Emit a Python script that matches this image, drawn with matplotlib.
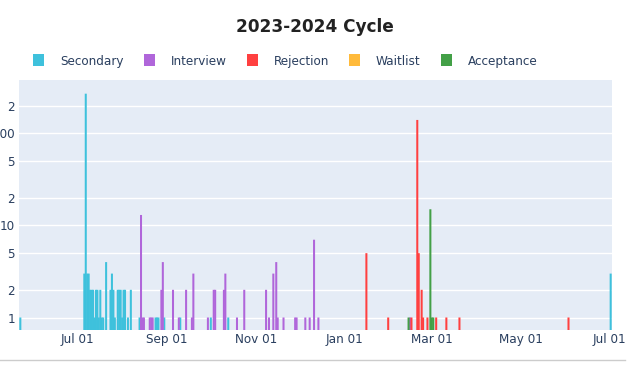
import pandas as pd
import matplotlib
matplotlib.use("Agg")
import matplotlib.pyplot as plt
import matplotlib.dates as mdates
from matplotlib.lines import Line2D
from matplotlib.patches import Rectangle

plt.rcParams['font.family'] = ['DejaVu Sans']

# Datos por categoría (fecha, cantidad)
secondary_dates = ["2023-05-23", "2023-07-06", "2023-07-07", "2023-07-08", "2023-07-09",
                   "2023-07-10", "2023-07-11", "2023-07-12", "2023-07-13", "2023-07-14",
                   "2023-07-15", "2023-07-16", "2023-07-17", "2023-07-18", "2023-07-19",
                   "2023-07-21", "2023-07-24", "2023-07-25", "2023-07-26", "2023-07-27",
                   "2023-07-29", "2023-07-30", "2023-07-31", "2023-08-01", "2023-08-02",
                   "2023-08-03", "2023-08-05", "2023-08-07", "2023-08-13", "2023-08-24",
                   "2023-08-25", "2023-08-26", "2023-08-30", "2023-09-10", "2023-10-01",
                   "2023-10-13", "2024-07-02"]
secondary_vals = [1, 3, 270, 3, 3,
                  2, 2, 2, 1, 2,
                  2, 1, 2, 1, 1,
                  4, 2, 3, 2, 1,
                  2, 2, 2, 1, 2,
                  2, 1, 2, 1, 1,
                  1, 1, 1, 1, 1,
                  1, 3]

interview_dates = ["2023-08-14", "2023-08-15", "2023-08-16", "2023-08-20", "2023-08-21",
                   "2023-08-22", "2023-08-28", "2023-08-29", "2023-09-05", "2023-09-09",
                   "2023-09-14", "2023-09-18", "2023-09-19", "2023-09-29", "2023-10-03",
                   "2023-10-04", "2023-10-10", "2023-10-11", "2023-10-19", "2023-10-24",
                   "2023-11-08", "2023-11-10", "2023-11-13", "2023-11-15", "2023-11-16",
                   "2023-11-20", "2023-11-28", "2023-11-29", "2023-12-05", "2023-12-08",
                   "2023-12-11", "2023-12-14", "2024-02-15"]
interview_vals = [13, 1, 1, 1, 1,
                  1, 2, 4, 2, 1,
                  2, 1, 3, 1, 2,
                  2, 2, 3, 1, 2,
                  2, 1, 3, 4, 1,
                  1, 1, 1, 1, 1,
                  7, 1, 1]

rejection_dates = ["2024-01-16", "2024-01-31", "2024-02-16", "2024-02-20", "2024-02-21",
                   "2024-02-23", "2024-02-24", "2024-02-27", "2024-03-04", "2024-03-11",
                   "2024-03-20", "2024-06-03"]
rejection_vals = [5, 1, 1, 140, 5,
                  2, 1, 1, 1, 1,
                  1, 1]

waitlist_dates = []
waitlist_vals = []

acceptance_dates = ["2024-02-14", "2024-02-29", "2024-03-01", "2024-03-02"]
acceptance_vals = [1, 15, 1, 1]

series = [
    ("Secondary", secondary_dates, secondary_vals, "#3ec1dc"),
    ("Interview", interview_dates, interview_vals, "#b066da"),
    ("Rejection", rejection_dates, rejection_vals, "#ff4040"),
    ("Waitlist", waitlist_dates, waitlist_vals, "#ffba3b"),
    ("Acceptance", acceptance_dates, acceptance_vals, "#43a047"),
]

W, H = 630, 370
fig = plt.figure(figsize=(W / 100, H / 100), dpi=100)
ax = fig.add_axes([19 / W, 1 - 329.5 / H, 592.7 / W, 249.5 / H])
ax.set_facecolor("#e5ecf6")
ax.set_yscale("log")

for name, dates, vals, color in series:
    bars = ax.bar(pd.to_datetime(dates), vals, width=1.4, bottom=0.001, color=color,
                  linewidth=0, zorder=2)
    for b in bars:
        b.set_snap(False)

ax.set_xlim(pd.Timestamp("2023-05-22 02:00"), pd.Timestamp("2024-07-02 17:00"))
ax.set_ylim(10 ** -0.13, 10 ** 2.58)

yticks = [1, 2, 5, 10, 20, 50, 100, 200]
ylabels = ["1", "2", "5", "10", "2", "5", "100", "2"]
ax.set_yticks(yticks)
ax.set_yticklabels(ylabels)
ax.yaxis.set_minor_locator(matplotlib.ticker.NullLocator())
ax.grid(True, axis="y", color="white", linewidth=1, zorder=1)
ax.set_axisbelow(True)

ax.xaxis.set_major_locator(mdates.MonthLocator(bymonth=[1, 3, 5, 7, 9, 11]))
ax.xaxis.set_major_formatter(mdates.DateFormatter("%b %d"))
ax.tick_params(axis="both", length=0, labelsize=8.64, labelcolor="#2a3f5f")
ax.tick_params(axis="y", pad=3)
ax.tick_params(axis="x", pad=2.5)
for s in ax.spines.values():
    s.set_visible(False)

fig.text(0.5, 1 - 27 / H, "2023-2024 Cycle", ha="center", va="center",
         fontsize=12.2, fontweight="bold", color="#222222")

# Leyenda horizontal al estilo plotly
renderer = fig.canvas.get_renderer()
x = 33
ly = 1 - 60 / H
for name, dates, vals, color in series:
    fig.add_artist(Rectangle((x / W, ly - 5.5 / H), 11 / W, 11 / H,
                             transform=fig.transFigure, facecolor=color,
                             edgecolor="none"))
    t = fig.text((x + 27) / W, ly, name, ha="left", va="center_baseline",
                 fontsize=8.64, color="#2a3f5f")
    x += 27 + t.get_window_extent(renderer).width + 20

fig.add_artist(Line2D([0, 625 / W], [1 - 360 / H, 1 - 360 / H],
                      transform=fig.transFigure, color="#cccccc", linewidth=1))

fig.savefig("out.png", dpi=100)
